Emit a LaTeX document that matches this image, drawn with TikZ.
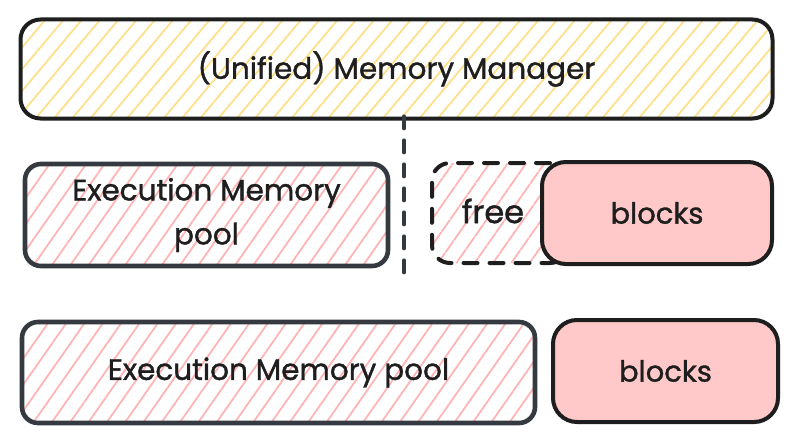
\documentclass[tikz,border=0pt]{standalone}
\usepackage{fontspec}
\setmainfont{Poppins}[FakeBold=1.2]
\usetikzlibrary{patterns.meta}
\definecolor{ink}{HTML}{1E1E1E}
\definecolor{inkgrey}{HTML}{343A40}
\definecolor{hatchyellow}{HTML}{FFE08A}
\definecolor{hatchred}{HTML}{FFB5B5}
\definecolor{blockfill}{HTML}{FFC9C9}
\tikzset{
  box/.style={rectangle, rounded corners=20pt, line width=4pt, draw=ink, text=ink,
    font=\fontsize{29.5}{44}\selectfont, align=center, inner sep=0pt},
  yellowhatch/.style={pattern={Lines[angle=50,distance=14pt,line width=1.8pt]}, pattern color=hatchyellow},
  redhatch/.style={pattern={Lines[angle=55,distance=15pt,line width=1.8pt]}, pattern color=hatchred},
  poolbox/.style={box, draw=inkgrey, line width=4.6pt, redhatch, rounded corners=16pt},
  blockbox/.style={box, fill=blockfill, rounded corners=24pt, font=\fontsize{29}{40}\selectfont},
  freebox/.style={box, redhatch, dash pattern=on 14pt off 12pt, line cap=round, rounded corners=18pt},
  dashline/.style={draw=inkgrey, line width=4pt, line cap=round, dash pattern=on 12pt off 12pt}
}
\begin{document}
\begin{tikzpicture}[x=1pt,y=-1pt]
\useasboundingbox[fill=white] (0,0) rectangle (803,444);
% top manager
\node[box, yellowhatch, minimum width=752pt, minimum height=99pt] (mgr) at (396.5,69) {(Unified) Memory Manager};
% divider
\coordinate (dend) at (404,283);
\draw[dashline] (mgr.south -| dend) ++(0,3pt) -- (dend);
% middle row
\node[poolbox, minimum width=363pt, minimum height=102pt] (pool1) at (206.5,215) {Execution Memory\\pool};
\node[freebox, minimum width=136pt, minimum height=100pt] (free) at (500,213) {};
\node[ink, font=\fontsize{32}{40}\selectfont] (freetxt) at (493,211) {free};
\node[blockbox, minimum width=230pt, minimum height=102pt] (blocks1) at (657,213) {blocks};
% bottom row
\node[poolbox, minimum width=513pt, minimum height=101pt] (pool2) at (278.5,372.5) {Execution Memory pool};
\node[blockbox, minimum width=225pt, minimum height=102pt] (blocks2) at (665.5,371) {blocks};
\end{tikzpicture}
\end{document}
